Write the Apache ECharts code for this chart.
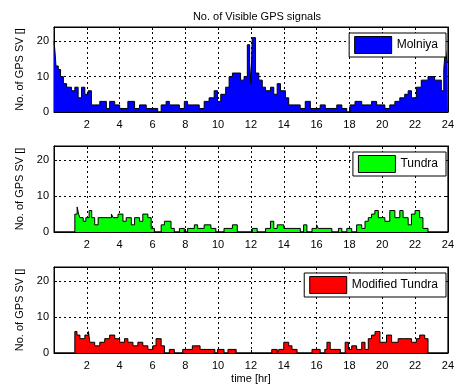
<!DOCTYPE html>
<html>
<head>
<meta charset="UTF-8">
<title>No. of Visible GPS signals</title>
<script src="https://cdn.jsdelivr.net/npm/echarts@6/dist/echarts.min.js"></script>
<style>
  html, body { margin: 0; padding: 0; background: #fff; }
  #chart { width: 457px; height: 387px; }
</style>
</head>
<body>
<div id="chart"></div>
<script>
// step breakpoints [hr] and number of visible GPS satellites
// (each value holds from its time until the next breakpoint)
var molniyaTimes = [0, 0.06, 0.12, 0.26, 0.4, 0.57, 0.77, 1.07, 1.27, 1.47, 1.68, 1.88, 2.08, 2.28, 2.48, 2.79,
  3.19, 3.39, 3.7, 4.0, 4.5, 4.91, 5.21, 5.62, 6.32, 6.53, 6.83, 7.03, 7.64, 7.94, 8.14, 8.85, 9.15, 9.45,
  9.76, 9.96, 10.16, 10.46, 10.67, 10.87, 11.37, 11.58, 11.78, 11.92, 12.0, 12.08, 12.28, 12.48, 12.69,
  12.89, 13.19, 13.39, 13.6, 13.8, 14.1, 14.3, 15.0, 15.31, 15.62, 16.22, 16.53, 17.23, 17.54, 17.84,
  18.04, 18.34, 18.75, 19.35, 19.66, 20.16, 20.46, 20.77, 21.07, 21.37, 21.58, 21.78, 22.08, 22.38,
  22.79, 23.19, 23.6, 23.75, 23.85, 23.95, 24];
var molniyaValues = [20, 17, 13, 12, 10, 8, 7, 6, 7, 4, 7, 5, 6, 2, 2, 3,
  1, 3, 2, 1, 3, 1, 2, 1, 0, 2, 3, 2, 1, 3, 2, 1, 3, 4,
  6, 3, 5, 7, 10, 11, 9, 10, 19, 14, 8, 21, 11, 9, 7,
  6, 7, 5, 8, 6, 4, 2, 1, 3, 1, 2, 1, 2, 1, 0,
  2, 3, 2, 3, 2, 1, 2, 3, 4, 5, 6, 4, 7, 9,
  10, 9, 6, 12, 18, 14, 14];

var tundraTimes = [0, 1.27, 1.41, 1.5, 1.58, 1.78, 1.94, 2.14, 2.3, 2.48, 2.69, 2.99, 3.3, 3.5, 3.6, 3.9,
  4.2, 4.4, 4.71, 4.91, 5.21, 5.41, 5.72, 5.92, 6.12, 6.53, 6.73, 7.13, 7.33, 7.64, 7.94, 8.14, 8.55,
  8.75, 9.15, 9.56, 9.86, 10.36, 10.87, 11.17, 12.08, 12.38, 12.89, 13.19, 13.39, 13.6, 14.0, 15.01,
  15.21, 15.41, 15.72, 16.0, 16.1, 16.93, 17.33, 17.54, 17.84, 18.14, 18.44, 18.75, 18.95, 19.15,
  19.35, 19.55, 19.76, 20.16, 20.46, 20.77, 21.07, 21.27, 21.58, 21.78, 22.0, 22.28, 22.48, 22.79, 24];
var tundraValues = [0, 5, 7, 5, 4, 3, 4, 6, 4, 2, 4, 4, 4, 5, 4, 5,
  3, 4, 2, 4, 3, 5, 4, 1, 0, 2, 3, 1, 0, 1, 0, 1, 2,
  1, 2, 1, 0, 1, 2, 0, 1, 0, 1, 3, 1, 2, 1, 0,
  2, 0, 1, 2, 1, 0, 1, 0, 1, 0, 2, 1, 3, 4,
  5, 6, 4, 3, 6, 4, 6, 4, 2, 5, 6, 4, 1, 0, 0];

var modTimes = [0, 1.27, 1.4, 1.58, 1.88, 2.1, 2.18, 2.48, 2.79, 3.09, 3.39, 3.7, 4.0, 4.3, 4.5, 4.81,
  5.11, 5.41, 5.72, 6.02, 6.22, 6.53, 6.73, 7.03, 7.33, 7.84, 8.43, 8.9, 9.8, 9.96, 10.36, 10.6, 11.1,
  13.27, 13.6, 13.7, 14.0, 14.3, 14.5, 14.81, 15.72, 16.22, 16.5, 16.63, 16.83, 17.45, 17.74, 17.94,
  18.14, 18.44, 18.75, 18.95, 19.15, 19.35, 19.56, 19.86, 20.26, 20.57, 20.97, 21.37, 21.78, 22.08,
  22.28, 22.59, 22.79, 24];
var modValues = [0, 6, 5, 4, 5, 6, 3, 2, 3, 4, 5, 4, 3, 4, 3, 2,
  3, 2, 1, 2, 4, 2, 0, 1, 0, 1, 2, 1, 0, 1, 0, 1, 0,
  1, 0, 1, 3, 2, 1, 0, 1, 0, 1, 3, 1, 0, 3, 1,
  2, 1, 3, 1, 4, 5, 6, 3, 5, 3, 4, 4, 3, 4,
  5, 4, 0, 0];

var hourTicks = [2, 4, 6, 8, 10, 12, 14, 16, 18, 20, 22, 24];
var svTicks = [0, 10, 20];

var seriesNames = ['Molniya', 'Tundra', 'Modified Tundra'];
var seriesColors = ['#0000ff', '#00ff00', '#ff0000'];

function pairs(ts, vs) {
  var out = [];
  for (var i = 0; i < ts.length; i++) out.push([ts[i], vs[i]]);
  return out;
}

var chart = echarts.init(document.getElementById('chart'));
var font = 'Liberation Sans, Arial, sans-serif';
var grids = [
  { left: 54, right: 7, top: 27, height: 85 },
  { left: 54, right: 7, top: 146, height: 86 },
  { left: 54, right: 7, top: 267, height: 86 }
];
var dataSets = [
  pairs(molniyaTimes, molniyaValues),
  pairs(tundraTimes, tundraValues),
  pairs(modTimes, modValues)
];

var xAxes = [], yAxes = [], series = [], legends = [];
var legendTop = [33, 152, 273];

grids.forEach(function (g, i) {
  g.show = true;
  g.borderColor = '#000';
  g.borderWidth = 1;
  g.backgroundColor = '#fff';

  xAxes.push({
    gridIndex: i, type: 'value', min: 0, max: 24, interval: 2,
    name: i === 2 ? 'time [hr]' : '', nameLocation: 'middle', nameGap: 20,
    nameTextStyle: { fontFamily: font, fontSize: 11, color: '#000' },
    axisLine: { onZero: false, lineStyle: { color: '#000' } },
    axisTick: { inside: true, length: 3, lineStyle: { color: '#000' } },
    axisLabel: {
      fontFamily: font, fontSize: 11, color: '#000', margin: 7, showMinLabel: false,
      formatter: function (v) { return hourTicks.indexOf(v) >= 0 ? String(v) : ''; }
    },
    splitLine: { show: true, lineStyle: { color: '#000', type: [2, 3], width: 1 } }
  });
  // top edge ticks, like the box of the original
  xAxes.push({
    gridIndex: i, type: 'value', min: 0, max: 24, interval: 2, position: 'top',
    axisLine: { onZero: false, lineStyle: { color: '#000' } },
    axisTick: { inside: true, length: 3, lineStyle: { color: '#000' } },
    axisLabel: { show: false }, splitLine: { show: false }
  });

  yAxes.push({
    gridIndex: i, type: 'value', min: 0, max: 24, interval: 10,
    name: 'No. of GPS SV []', nameLocation: 'middle', nameGap: 27, nameRotate: 90,
    nameTextStyle: { fontFamily: font, fontSize: 11, color: '#000' },
    axisLine: { show: true, onZero: false, lineStyle: { color: '#000' } },
    axisTick: { inside: true, length: 3, lineStyle: { color: '#000' } },
    axisLabel: {
      fontFamily: font, fontSize: 11, color: '#000', margin: 5, showMaxLabel: false,
      formatter: function (v) { return svTicks.indexOf(v) >= 0 ? String(v) : ''; }
    },
    splitLine: { show: true, lineStyle: { color: '#000', type: [2, 3], width: 1 } }
  });
  yAxes.push({
    gridIndex: i, type: 'value', min: 0, max: 24, interval: 10, position: 'right',
    axisLine: { show: true, onZero: false, lineStyle: { color: '#000' } },
    axisTick: { inside: true, length: 3, lineStyle: { color: '#000' } },
    axisLabel: { show: false }, splitLine: { show: false }
  });

  series.push({
    name: seriesNames[i], type: 'line', step: 'end',
    xAxisIndex: i * 2, yAxisIndex: i * 2,
    data: dataSets[i], symbol: 'none', silent: true,
    lineStyle: { color: '#000', width: 1 },
    itemStyle: { color: seriesColors[i] },
    areaStyle: { color: seriesColors[i], opacity: 1 }
  });

  legends.push({
    data: [{ name: seriesNames[i], icon: 'rect',
      itemStyle: { color: seriesColors[i], borderColor: '#000', borderWidth: 1 } }],
    right: 11, top: legendTop[i],
    backgroundColor: '#fff', borderColor: '#000', borderWidth: 1,
    padding: [3, 8, 3, 5], itemWidth: 37, itemHeight: 17, itemGap: 4,
    selectedMode: false,
    textStyle: { fontFamily: font, fontSize: 12, color: '#000' }
  });
});

chart.setOption({
  backgroundColor: '#fff',
  animation: false,
  title: {
    text: 'No. of Visible GPS signals', left: 252, top: 6, textAlign: 'center',
    textStyle: { fontFamily: font, fontSize: 11, fontWeight: 'normal', color: '#000' }
  },
  grid: grids,
  xAxis: xAxes,
  yAxis: yAxes,
  legend: legends,
  series: series
});
</script>
</body>
</html>
